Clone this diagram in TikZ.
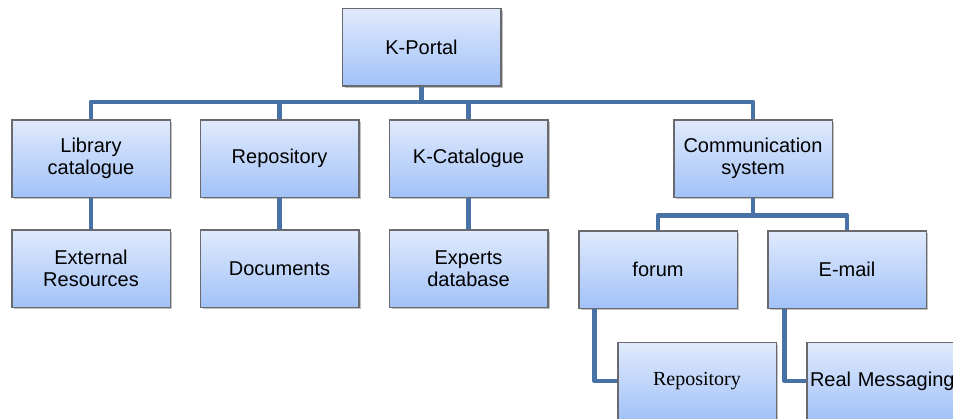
\documentclass[tikz,border=0pt]{standalone}
\usepackage{fontspec}
\setmainfont{Liberation Sans}
\newfontfamily\timesfont{Liberation Serif}
\usetikzlibrary{shadows}

\definecolor{busblue}{RGB}{72,114,166}
\definecolor{boxtop}{RGB}{224,234,252}
\definecolor{boxbot}{RGB}{162,194,248}
\definecolor{boxline}{RGB}{105,105,110}

\tikzset{every picture/.style={line width=0.75pt}}
\tikzset{
  kbox/.style={draw=boxline, line width=0.6pt, top color=boxtop, bottom color=boxbot,
    minimum width=118.5pt, minimum height=57.75pt, inner sep=0pt, align=center,
    font=\fontsize{15}{16.5}\selectfont,
    drop shadow={shadow xshift=1.5pt, shadow yshift=-1.5pt, opacity=0.35, fill=black!70}},
  kleft/.style={kbox, align=left, text width=114pt, inner xsep=2.25pt},
  conn/.style={draw=busblue, line width=3.6pt, line join=round}
}

\begin{document}
\begin{tikzpicture}[x=0.75pt,y=0.75pt,yscale=-1,xscale=1]
	\useasboundingbox (0,0) rectangle (953,418);
	\clip (0,0) rectangle (953,418);

	% Top node
	\node [kbox] (portal) at (421.5,47) {K-Portal};
	% First row
	\node [kbox] (libcat) at (91,158.5) {Library\\catalogue};
	\node [kbox] (repo) at (279.5,158.5) {Repository};
	\node [kbox] (kcat) at (468.5,158.5) {K-Catalogue};
	\node [kbox] (comm) at (753,158.5) {Communication\\system};
	% Second row
	\node [kbox] (extres) at (91,268.5) {External\\Resources};
	\node [kbox] (docs) at (279.5,268.5) {Documents};
	\node [kbox] (experts) at (468.5,268.5) {Experts\\database};
	\node [kbox] (forum) at (658,269.5) {forum};
	\node [kbox] (email) at (847,269.5) {E-mail};
	% Third row
	\node [kbox, font=\timesfont\fontsize{15}{16.5}\selectfont] (repotwo) at (697,381) {Repository};
	\node [kleft] (realmsg) at (886,381) {Real Messaging};

	% Connectors
	\draw [conn] (portal.south) -- ++(0,16) -| (libcat.north);
	\draw [conn] (portal.south) -- ++(0,16) -| (repo.north);
	\draw [conn] (portal.south) -- ++(0,16) -| (kcat.north);
	\draw [conn] (portal.south) -- ++(0,16) -| (comm.north);
	\draw [conn] (libcat) -- (extres);
	\draw [conn] (repo) -- (docs);
	\draw [conn] (kcat) -- (experts);
	\draw [conn] (comm.south) -- ++(0,18) -| (forum.north);
	\draw [conn] (comm.south) -- ++(0,18) -| (email.north);
	\draw [conn] (forum.south west) ++(16,0) |- (repotwo.west);
	\draw [conn] (email.south west) ++(17,0) |- (realmsg.west);

	% Boxes again on top of the lines
	\foreach \n in {portal,libcat,repo,kcat,comm,extres,docs,experts,forum,email,repotwo,realmsg}
	  \draw [boxline, line width=0.6pt] (\n.north west) rectangle (\n.south east);
\end{tikzpicture}
\end{document}
